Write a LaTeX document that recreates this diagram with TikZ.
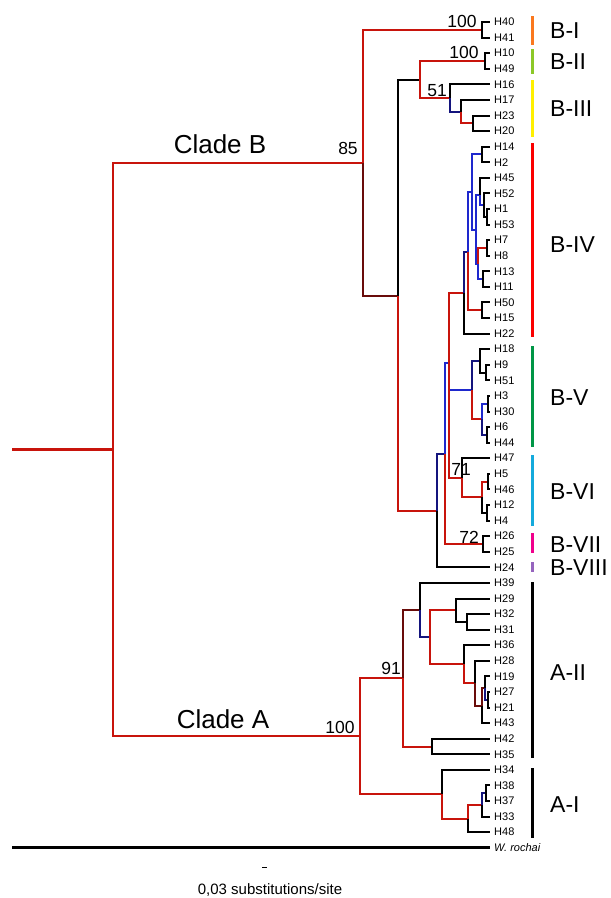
\documentclass[tikz,border=0pt]{standalone}
\usepackage{fontspec}
\setmainfont{Liberation Sans}
\usepackage{xcolor}
\usetikzlibrary{positioning}
\definecolor{treered}{RGB}{200,20,12}
\definecolor{darkred}{RGB}{105,12,10}
\definecolor{treeblue}{RGB}{30,40,205}
\definecolor{navy}{RGB}{20,20,125}
\definecolor{barorange}{RGB}{250,120,30}
\definecolor{barlime}{RGB}{140,200,40}
\definecolor{baryellow}{RGB}{255,240,0}
\definecolor{barred}{RGB}{250,0,0}
\definecolor{bargreen}{RGB}{0,150,70}
\definecolor{barcyan}{RGB}{20,170,220}
\definecolor{barmagenta}{RGB}{240,0,140}
\definecolor{barpurple}{RGB}{150,100,190}

\begin{document}
\begin{tikzpicture}[x=1pt,y=-1pt,
    br/.style={line width=2pt, line join=miter},
    rbr/.style={br, draw=treered},
    dbr/.style={br, draw=darkred},
    bbr/.style={br, draw=treeblue},
    nbr/.style={br, draw=navy},
    leaf/.style={anchor=west, inner xsep=4pt, inner ysep=0pt, font=\fontsize{11}{11}\selectfont},
    boot/.style={inner sep=0pt, font=\fontsize{17.5}{17.5}\selectfont},
    clade/.style={inner sep=0pt, font=\fontsize{26}{26}\selectfont},
    grp/.style={anchor=west, inner sep=0pt, font=\fontsize{23}{23}\selectfont},
    bar/.style={line width=3pt}]
    \useasboundingbox (0,0) rectangle (611,898);

    % leaves
    \node[leaf] (H40) at (490,22.0) {H40};
    \node[leaf] (H41) at (490,37.6) {H41};
    \node[leaf] (H10) at (490,53.2) {H10};
    \node[leaf] (H49) at (490,68.7) {H49};
    \node[leaf] (H16) at (490,84.3) {H16};
    \node[leaf] (H17) at (490,99.9) {H17};
    \node[leaf] (H23) at (490,115.5) {H23};
    \node[leaf] (H20) at (490,131.1) {H20};
    \node[leaf] (H14) at (490,146.6) {H14};
    \node[leaf] (H2) at (490,162.2) {H2};
    \node[leaf] (H45) at (490,177.8) {H45};
    \node[leaf] (H52) at (490,193.4) {H52};
    \node[leaf] (H1) at (490,209.0) {H1};
    \node[leaf] (H53) at (490,224.5) {H53};
    \node[leaf] (H7) at (490,240.1) {H7};
    \node[leaf] (H8) at (490,255.7) {H8};
    \node[leaf] (H13) at (490,271.3) {H13};
    \node[leaf] (H11) at (490,286.9) {H11};
    \node[leaf] (H50) at (490,302.4) {H50};
    \node[leaf] (H15) at (490,318.0) {H15};
    \node[leaf] (H22) at (490,333.6) {H22};
    \node[leaf] (H18) at (490,349.2) {H18};
    \node[leaf] (H9) at (490,364.8) {H9};
    \node[leaf] (H51) at (490,380.3) {H51};
    \node[leaf] (H3) at (490,395.9) {H3};
    \node[leaf] (H30) at (490,411.5) {H30};
    \node[leaf] (H6) at (490,427.1) {H6};
    \node[leaf] (H44) at (490,442.7) {H44};
    \node[leaf] (H47) at (490,458.2) {H47};
    \node[leaf] (H5) at (490,473.8) {H5};
    \node[leaf] (H46) at (490,489.4) {H46};
    \node[leaf] (H12) at (490,505.0) {H12};
    \node[leaf] (H4) at (490,520.6) {H4};
    \node[leaf] (H26) at (490,536.1) {H26};
    \node[leaf] (H25) at (490,551.7) {H25};
    \node[leaf] (H24) at (490,567.3) {H24};
    \node[leaf] (H39) at (490,582.9) {H39};
    \node[leaf] (H29) at (490,598.5) {H29};
    \node[leaf] (H32) at (490,614.0) {H32};
    \node[leaf] (H31) at (490,629.6) {H31};
    \node[leaf] (H36) at (490,645.2) {H36};
    \node[leaf] (H28) at (490,660.8) {H28};
    \node[leaf] (H19) at (490,676.4) {H19};
    \node[leaf] (H27) at (490,691.9) {H27};
    \node[leaf] (H21) at (490,707.5) {H21};
    \node[leaf] (H43) at (490,723.1) {H43};
    \node[leaf] (H42) at (490,738.7) {H42};
    \node[leaf] (H35) at (490,754.3) {H35};
    \node[leaf] (H34) at (490,769.8) {H34};
    \node[leaf] (H38) at (490,785.4) {H38};
    \node[leaf] (H37) at (490,801.0) {H37};
    \node[leaf] (H33) at (490,816.6) {H33};
    \node[leaf] (H48) at (490,832.1) {H48};
    \node[leaf] (Wr) at (490,847.7) {\itshape W. rochai};

    % internal nodes
    \coordinate (rootend) at (12,449.6);
    \coordinate (root) at (113,449.6);
    \coordinate (cB) at (363,163);
    \coordinate (cA) at (360,736.2);
    \coordinate (nBI) at (482,29.8);
    \coordinate (nX) at (398,296);
    \coordinate (n420) at (420,80);
    \coordinate (nBII) at (485,61);
    \coordinate (nB3) at (450,98);
    \coordinate (n461) at (461,111.6);
    \coordinate (n473) at (473,123.3);
    \coordinate (nY) at (437,511);
    \coordinate (nZ) at (445,454);
    \coordinate (nW) at (449,363);
    \coordinate (nB4) at (464,293);
    \coordinate (nV) at (468,252);
    \coordinate (nU) at (472,192);
    \coordinate (n14) at (482,154.4);
    \coordinate (nT) at (476,230);
    \coordinate (nS1) at (480,195);
    \coordinate (nR) at (484,205);
    \coordinate (n1) at (487,216.8);
    \coordinate (nS2) at (478,264);
    \coordinate (n7) at (487,247.9);
    \coordinate (n13) at (483,279.1);
    \coordinate (n50) at (482,310.2);
    \coordinate (nB5) at (472,390);
    \coordinate (n18) at (480,361);
    \coordinate (n9) at (486,372.6);
    \coordinate (n3) at (482,419.3);
    \coordinate (n30) at (488,403.7);
    \coordinate (n6) at (487,434.9);
    \coordinate (nB6) at (462,477.7);
    \coordinate (n5) at (482,497.2);
    \coordinate (n46) at (488,481.6);
    \coordinate (n12) at (487,512.8);
    \coordinate (nB7) at (483,543.9);
    \coordinate (nA2) at (403,678.3);
    \coordinate (n39) at (420,610);
    \coordinate (n430) at (430,637.2);
    \coordinate (n29) at (456,610.2);
    \coordinate (n32) at (467,621.8);
    \coordinate (n36) at (464,664.2);
    \coordinate (n28) at (475,683.2);
    \coordinate (n43) at (482,705.6);
    \coordinate (n19) at (485,688);
    \coordinate (n27) at (488,699.7);
    \coordinate (n42) at (432,746.5);
    \coordinate (nA1) at (442,794.2);
    \coordinate (n48) at (468,818.5);
    \coordinate (n33) at (482,804.9);
    \coordinate (n38) at (486,793.2);

    % root and outgroup
    \draw[rbr, line width=2.6pt] (rootend) -- (root);
    \draw[br, line width=3pt] (rootend |- Wr) -- (Wr.west);
    \draw[rbr] (root) |- (cB);
    \draw[rbr] (root) |- (cA);

    % clade B
    \draw[rbr] (cB) |- (nBI);
    \draw[dbr] (cB) |- (nX);
    \draw[br] (nBI) |- (H40.west);
    \draw[br] (nBI) |- (H41.west);
    \draw[br] (nX) |- (n420);
    \draw[rbr] (nX) |- (nY);
    \draw[rbr] (n420) |- (nBII);
    \draw[rbr] (n420) |- (nB3);
    \draw[br] (nBII) |- (H10.west);
    \draw[br] (nBII) |- (H49.west);
    \draw[br] (nB3) |- (H16.west);
    \draw[nbr] (nB3) |- (n461);
    \draw[br] (n461) |- (H17.west);
    \draw[rbr] (n461) |- (n473);
    \draw[br] (n473) |- (H23.west);
    \draw[br] (n473) |- (H20.west);
    \draw[nbr] (nY) |- (nZ);
    \draw[br] (nY) |- (H24.west);
    \draw[bbr] (nZ) |- (nW);
    \draw[rbr] (nZ) |- (nB7);
    \draw[rbr] (nW) |- (nB4);
    \draw[bbr] (nW) |- (nB5);
    \draw[rbr] (nW) |- (nB6);
    \draw[br] (nB7) |- (H26.west);
    \draw[br] (nB7) |- (H25.west);

    % B-IV
    \draw[nbr] (nB4) |- (nV);
    \draw[br] (nB4) |- (H22.west);
    \draw[bbr] (nV) |- (nU);
    \draw[rbr] (nV) |- (n50);
    \draw[bbr] (nU) |- (n14);
    \draw[bbr] (nU) |- (nT);
    \draw[bbr] (nT) |- (nS1);
    \draw[bbr] (nT) |- (nS2);
    \draw[br] (nS1) |- (H45.west);
    \draw[bbr] (nS1) |- (nR);
    \draw[br] (nR) |- (H52.west);
    \draw[br] (nR) |- (n1);
    \draw[rbr] (nS2) |- (n7);
    \draw[bbr] (nS2) |- (n13);
    \draw[br] (n14) |- (H14.west);
    \draw[br] (n14) |- (H2.west);
    \draw[br] (n1) |- (H1.west);
    \draw[br] (n1) |- (H53.west);
    \draw[br] (n7) |- (H7.west);
    \draw[br] (n7) |- (H8.west);
    \draw[br] (n13) |- (H13.west);
    \draw[br] (n13) |- (H11.west);
    \draw[br] (n50) |- (H50.west);
    \draw[br] (n50) |- (H15.west);

    % B-V
    \draw[nbr] (nB5) |- (n18);
    \draw[rbr] (nB5) |- (n3);
    \draw[br] (n18) |- (H18.west);
    \draw[br] (n18) |- (n9);
    \draw[br] (n9) |- (H9.west);
    \draw[br] (n9) |- (H51.west);
    \draw[bbr] (n3) |- (n30);
    \draw[nbr] (n3) |- (n6);
    \draw[br] (n30) |- (H3.west);
    \draw[br] (n30) |- (H30.west);
    \draw[br] (n6) |- (H6.west);
    \draw[br] (n6) |- (H44.west);

    % B-VI
    \draw[br] (nB6) |- (H47.west);
    \draw[rbr] (nB6) |- (n5);
    \draw[rbr] (n5) |- (n46);
    \draw[br] (n5) |- (n12);
    \draw[br] (n46) |- (H5.west);
    \draw[br] (n46) |- (H46.west);
    \draw[br] (n12) |- (H12.west);
    \draw[br] (n12) |- (H4.west);

    % clade A
    \draw[rbr] (cA) |- (nA2);
    \draw[rbr] (cA) |- (nA1);
    \draw[dbr] (nA2) |- (n39);
    \draw[rbr] (nA2) |- (n42);
    \draw[br] (n39) |- (H39.west);
    \draw[nbr] (n39) |- (n430);
    \draw[rbr] (n430) |- (n29);
    \draw[rbr] (n430) |- (n36);
    \draw[br] (n29) |- (H29.west);
    \draw[br] (n29) |- (n32);
    \draw[br] (n32) |- (H32.west);
    \draw[br] (n32) |- (H31.west);
    \draw[br] (n36) |- (H36.west);
    \draw[rbr] (n36) |- (n28);
    \draw[br] (n28) |- (H28.west);
    \draw[dbr] (n28) |- (n43);
    \draw[dbr] (n43) |- (n19);
    \draw[br] (n43) |- (H43.west);
    \draw[br] (n19) |- (H19.west);
    \draw[nbr] (n19) |- (n27);
    \draw[br] (n27) |- (H27.west);
    \draw[br] (n27) |- (H21.west);
    \draw[br] (n42) |- (H42.west);
    \draw[br] (n42) |- (H35.west);
    \draw[br] (nA1) |- (H34.west);
    \draw[rbr] (nA1) |- (n48);
    \draw[rbr] (n48) |- (n33);
    \draw[br] (n48) |- (H48.west);
    \draw[nbr] (n33) |- (n38);
    \draw[br] (n33) |- (H33.west);
    \draw[br] (n38) |- (H38.west);
    \draw[br] (n38) |- (H37.west);

    % support values and clade names
    \node[boot] (bsBI) at (462,21) {100};
    \node[boot] (bsBII) at (464,52) {100};
    \node[boot] (bsBIII) at (437,91) {51};
    \node[boot] (bsB) at (348,148) {85};
    \node[boot] (bsBVI) at (461,469) {71};
    \node[boot] (bsBVII) at (469,537) {72};
    \node[boot] (bsAII) at (391,668) {91};
    \node[boot] (bsA) at (340,727) {100};
    \node[clade] (cladeB) at (220,144) {Clade B};
    \node[clade] (cladeA) at (223,719) {Clade A};

    % group bars
    \draw[bar, draw=barorange] (532,16) -- (532,45);
    \draw[bar, draw=barlime] (532,49) -- (532,74);
    \draw[bar, draw=baryellow] (532,80) -- (532,137);
    \draw[bar, draw=barred] (532,143) -- (532,337);
    \draw[bar, draw=bargreen] (532,346) -- (532,447);
    \draw[bar, draw=barcyan] (532,455) -- (532,526);
    \draw[bar, draw=barmagenta] (532,533) -- (532,553);
    \draw[bar, draw=barpurple] (532,562) -- (532,572);
    \draw[bar] (532,582) -- (532,758);
    \draw[bar] (532,768) -- (532,838);
    \node[grp] (gBI) at (550,31) {B-I};
    \node[grp] (gBII) at (550,62) {B-II};
    \node[grp] (gBIII) at (550,109) {B-III};
    \node[grp] (gBIV) at (550,245) {B-IV};
    \node[grp] (gBV) at (550,398) {B-V};
    \node[grp] (gBVI) at (550,492) {B-VI};
    \node[grp] (gBVII) at (550,545) {B-VII};
    \node[grp] (gBVIII) at (550,568) {B-VIII};
    \node[grp] (gAII) at (550,673) {A-II};
    \node[grp] (gAI) at (550,805) {A-I};

    % scale
    \draw[line width=0.8pt] (262,867) -- (267,867);
    \node[inner sep=0pt, font=\fontsize{15}{15}\selectfont] (scale) at (270,890) {0,03 substitutions/site};
\end{tikzpicture}
\end{document}
